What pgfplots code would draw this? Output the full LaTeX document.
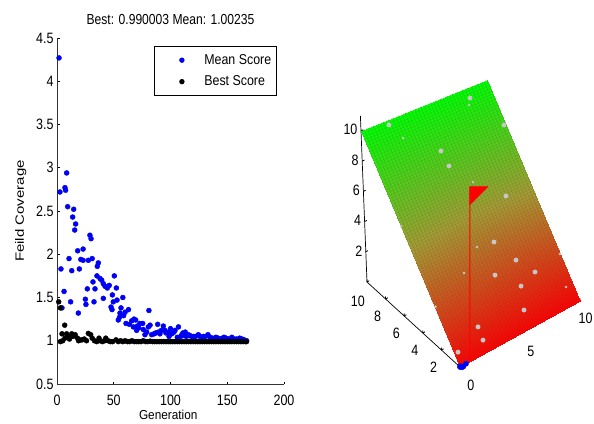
\documentclass[border=0pt]{standalone}
\usepackage{fontspec}
\setmainfont{Liberation Sans}
\usepackage{pgfplots}
\pgfplotsset{compat=1.18}
\definecolor{mblue}{RGB}{0,0,245}
\definecolor{axgray}{RGB}{50,50,50}
\pgfplotsset{
 colormap={rg}{rgb255(0)=(255,0,0) rgb255(1)=(165,155,50) rgb255(2)=(0,255,0)}
}
\begin{document}
\begin{tikzpicture}[x=1pt,y=1pt]
\path[use as bounding box] (0,0) rectangle (594,423);
\begin{axis}[
  at={(57pt,39pt)},anchor=origin,
  scale only axis,width=227pt,height=346pt,
  xmin=0,xmax=200,ymin=0.5,ymax=4.5,
  axis x line*=bottom,axis y line*=left,
  axis line style={axgray,line width=0.9pt,-},
  tick style={black,line width=0.9pt},
  major tick length=2.5pt,tick align=inside,
  xtick={0,50,100,150,200},
  ytick={0.5,1,1.5,2,2.5,3,3.5,4,4.5},
  yticklabels={0.5,1,1.5,2,2.5,3,3.5,4,4.5},
  xticklabels={0,50,100,150,200},
  tick label style={font=\fontsize{12.5}{13}\selectfont,yscale=1.2,/pgf/number format/assume math mode=true},
  xticklabel style={yshift=-6pt},
  yticklabel style={xshift=0pt},
  xlabel={\scalebox{1}[1.1]{Generation}},ylabel={\scalebox{1.25}[1]{Feild Coverage}},
  xlabel style={font=\fontsize{11.8}{12}\selectfont,at={(axis description cs:0.49,0)},anchor=north,yshift=-23pt},
  ylabel style={font=\fontsize{12}{12}\selectfont,at={(rel axis cs:0,0.5)},anchor=south,yshift=27pt},
  title={\scalebox{1}[1.2]{Best: 0.990003 Mean: 1.00235}},
  title style={font=\fontsize{12.1}{12}\selectfont,at={(rel axis cs:0.5,1)},anchor=south,yshift=4pt},
  clip=false,
  legend cell align=left,
  legend image code/.code={\path (0pt,0pt) (44pt,0pt);\draw[mark repeat=1,#1,mark size=2.2pt] plot coordinates {(24pt,0pt)};},
  legend style={at={(97pt,338pt)},anchor=north west,draw=black,line width=0.9pt,
    font=\fontsize{12.4}{13}\selectfont,inner xsep=3pt,inner ysep=6pt,row sep=6pt,
    nodes={inner xsep=2pt,inner ysep=2pt}},
]
\addplot[only marks,mark=*,mark size=2.5pt,mblue,mark options={draw=mblue,fill=mblue}] coordinates {
(1.8,4.27)(2.6,2.72)(7,2.77)(7.6,2.74)(8.5,2.94)(9.4,2.55)(14.7,2.52)(13.8,2.43)
(16.4,2.35)(15.6,2.28)(29,2.22)(30,2.18)(10.6,1.95)(3.5,1.83)(13,1.81)(18.2,2.04)(23,2.06)
(21,1.94)(23,1.93)(27.6,1.93)(31,1.95)(19.7,1.83)(36.4,1.9)(35.5,1.86)(31.7,1.68)(26.7,1.6)
(33.5,1.6)(6.2,1.57)(35.2,1.75)(37.9,1.72)(39.4,1.7)(40.8,1.66)(42.3,1.63)(44.3,1.61)(46,1.64)
(50.5,1.75)(52.3,1.61)(48.8,1.53)(40.8,1.49)(25,1.48)(25.5,1.42)(12,1.45)(32.6,1.45)(49.6,1.45)
(52.9,1.47)(58,1.5)(4.4,1.38)(18.8,1.32)(47.6,1.39)(48.5,1.36)(56.4,1.38)(63,1.36)(60,1.33)
(55.5,1.32)(58.7,1.29)(55,1.27)(54,1.24)(81,1.35)(60.8,1.2)(63.7,1.19)(65.8,1.23)(67.8,1.25)
(69.3,1.24)(67.3,1.16)(70.8,1.17)(73,1.2)(75.5,1.2)(70.2,1.12)(76,1.13)(77.5,1.07)(80.5,1.16)
(82,1.18)(83.4,1.07)(85.5,1.08)(88.7,1.19)(89.3,1.1)(90.7,1.08)(93.7,1.17)(95,1.12)(98,1.1)
(98.7,1.05)(100,1.14)(104,1.12)(107,1.16)(106,1.04)(110,1.07)(113,1.1)(115.7,1.07)(118.6,1.05)
(124.5,1.07)(129,1.05)(133,1.07)(140,1.04)(147,1.04)(154,1.04)(161,1.03)
(72,1.15)(79,1.1)(87,1.09)(92,1.12)(96,1.09)(101,1.08)(103,1.1)(109,1.05)(111,1.09)(112,1.06)
(114,1.05)(117,1.06)(120,1.05)(122,1.05)(126,1.05)(128,1.04)(131,1.05)(135,1.04)(137,1.03)
(139,1.03)(142,1.03)(144,1.02)(146,1.03)(149,1.03)(151,1.02)(153,1.02)(156,1.02)(158,1.02)
(160,1.02)(163,1.02)(165,1.01)(167,1.0)
};
\addlegendentry{\scalebox{1}[1.15]{Mean Score}}
\addplot[only marks,mark=*,mark size=2.5pt,black,mark options={draw=black,fill=black}] coordinates {
(1.5,1.45)(3,1.38)(6.8,1.18)(4.4,1.08)(3,0.99)(5,1.0)(7,1.03)(8.5,1.08)(10,1.05)(11,1.02)(13,1.08)
(14,1.05)(16,1.07)(18,1.03)(19,1.0)(20,1.01)(22,1.01)(24,1.02)(26,1.0)(27.6,1.085)(29.7,1.07)(31,1.03)
(33,1.0)(35,0.99)(37,1.03)(38,1.0)(40,0.99)(42,1.0)(43,1.03)(45,1.0)(47,0.99)(49,0.99)(52,1.01)
(54,0.99)(56,1.0)(58,0.99)(60,1.0)(62,0.99)(64,0.99)(66,1.0)(68,0.99)(70,0.99)(72,0.99)(74,0.99)
(76,1.0)(78,0.99)(80,0.99)(82,0.995)(84,0.99)(86,0.99)(88,0.99)(90,0.99)(92,0.99)(94,0.99)(96,0.99)
(98,0.99)(100,0.99)(102,0.99)(104,0.99)(106,0.99)(108,0.99)(110,0.99)(112,0.99)(114,0.99)(116,0.99)
(118,0.99)(120,0.99)(122,0.99)(124,0.99)(126,0.99)(128,0.99)(130,0.99)(132,0.99)(134,0.99)(136,0.99)
(138,0.99)(140,0.99)(142,0.99)(144,0.99)(146,0.99)(148,0.99)(150,0.99)(152,0.99)(154,0.99)(156,0.99)
(158,0.99)(160,0.99)(162,0.99)(164,0.99)(166,0.99)(167,0.99)
};
\addlegendentry{\scalebox{1}[1.15]{Best Score}}
\end{axis}

\begin{axis}[
  at={(460pt,56pt)},anchor=origin,
  x={(12pt,6.6pt)},y={(-9.3pt,8.5pt)},z={(-0.6pt,15.1pt)},
  xmin=0,xmax=10,ymin=0,ymax=10,zmin=0,zmax=11,
  axis x line*=bottom,axis y line*=left,axis z line*=left,
  axis line style={black,line width=0.7pt,-},
  tick style={black,line width=0.8pt},
  major tick length=2.5pt,
  xtick={0,5,10},ytick={2,4,6,8,10},ztick={2,4,6,8,10},
  xticklabels={0,5,\hspace*{-10pt}10},
  tick label style={font=\fontsize{12.5}{13}\selectfont,yscale=1.2,/pgf/number format/assume math mode=true},
  xticklabel style={xshift=6pt,yshift=-6pt},
  yticklabel style={xshift=-2pt,yshift=-6pt},
  colormap name=rg,point meta min=0,point meta max=10,
  clip=false,
]
\addplot3[surf,shader=interp,mesh/rows=2,mesh/cols=2,point meta=explicit] coordinates {
(0,0,0) [0] (10,0,0) [0]

(0,10,10) [10] (10.45,10,8.8) [10]
};
\pgfplotsinvokeforeach{0,0.25,...,10}{
  \draw[black!70,opacity=0.25,line width=0.5pt] (axis cs:#1,0,0) -- (axis cs:{#1*1.045},10,{10-#1*0.12});
}
\pgfplotsinvokeforeach{0,0.125,...,10}{
  \draw[black!70,opacity=0.2,line width=0.4pt] (axis cs:0,#1,#1) -- (axis cs:{10+#1*0.045},#1,{#1*0.88});
}
\addplot3[only marks,color=black!22,mark=*,mark size=2.2pt,mark options={draw=black!22,fill=black!22}] coordinates {
(2.07,9.68,9.68)(8.32,9.07,9.07)(4.85,7.8,7.8)(4.96,7.13,7.13)(7.97,5.02,5.02)(6.83,2.62,2.62)
(4.98,2.5,2.5)(6.43,1.63,1.63)(5.95,0.75,0.75)(2.36,1.04,1.04)(2.32,0.49,0.49)(0.29,0.55,0.55)
(5.85,3.66,3.66)(7.78,1.85,1.85)(9.85,7.5,7.5)
};
\addplot3[only marks,color=black!22,mark=*,mark size=1.1pt,mark options={draw=black!22,fill=black!22}] coordinates {
(8.05,8.85,8.85)(2.65,8.96,8.96)(6.14,6.12,6.12)(0.01,5.97,5.97)(4.56,3.81,3.81)(2.94,3.16,3.16)
(9.45,0.75,0.75)(9.98,2.0,2.0)(0.05,2.54,2.54)
};
\addplot3[red,line width=0.9pt] coordinates {(0.9,0.1,0) (1.26,-0.18,11.5)};
\addplot3[fill=red,draw=red] coordinates {(1.26,-0.18,11.5) (2.2,-0.91,11.5) (1.22,-0.15,10.3) (1.26,-0.18,11.5)};
\addplot3[only marks,color=mblue,mark=*,mark size=2.6pt,mark options={draw=mblue,fill=mblue}] coordinates {
(0,0,0)(0.05,0.05,0)(0.1,-0.1,0)(0.2,-0.1,0)(0.5,0,0)
};
\end{axis}
\end{tikzpicture}
\end{document}
